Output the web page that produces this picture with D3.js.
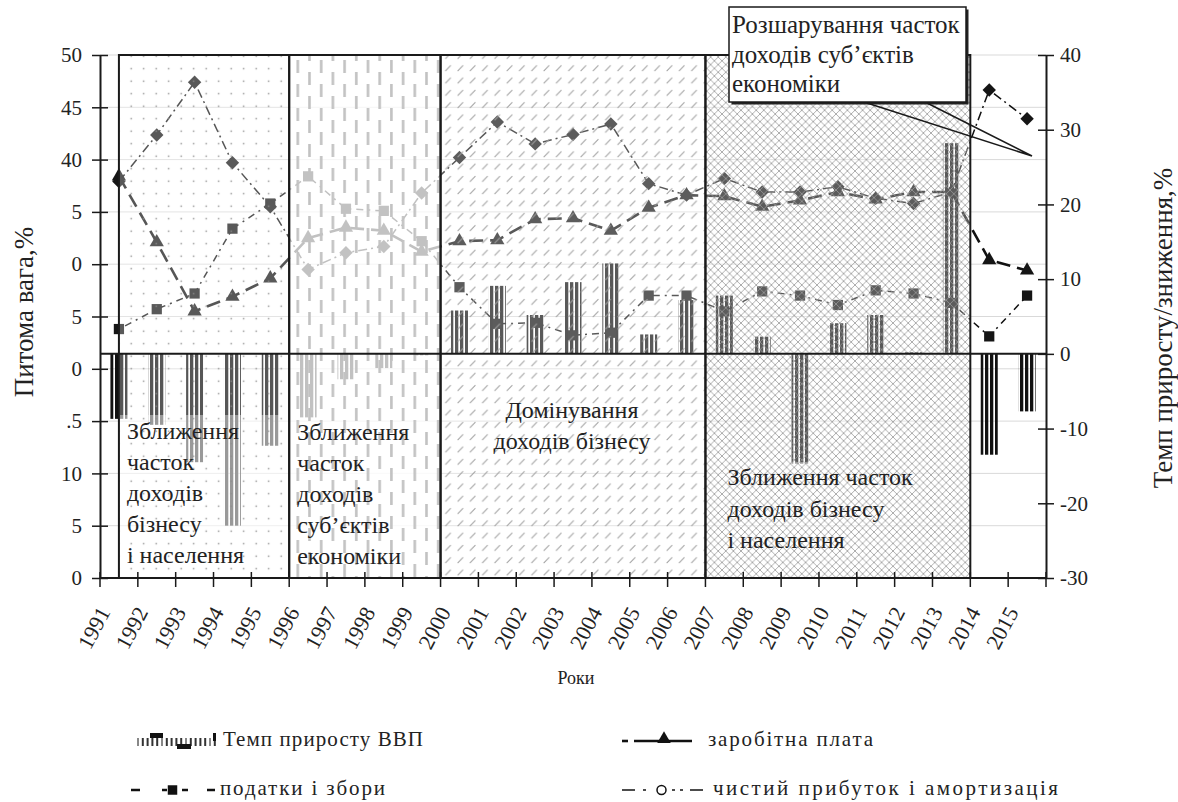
<!DOCTYPE html>
<html><head><meta charset="utf-8">
<script src="https://cdn.jsdelivr.net/npm/d3@7/dist/d3.min.js"></script>
<style>
body{margin:0;background:#fff}
svg{font-family:"Liberation Serif","Tinos","Times New Roman","DejaVu Serif",serif;display:block}
svg text{font-family:"Liberation Serif","Tinos","Times New Roman","DejaVu Serif",serif}
</style>
</head><body>
<svg id="chart" width="1178" height="802"></svg>
<script>
// ---------------- data ----------------
const years = [1991,1992,1993,1994,1995,1996,1997,1998,1999,2000,2001,2002,2003,2004,2005,2006,2007,2008,2009,2010,2011,2012,2013,2014,2015];
// GDP growth rate, % (right axis)
const gdpGrowth = [-8.7,-9.5,-14.5,-23.0,-12.3,-8.5,-3.4,-1.9,-0.2,5.8,9.1,5.2,9.6,12.1,2.6,7.2,7.8,2.3,-14.7,4.1,5.2,0.2,28.2,-13.5,-7.7];
// taxes and fees share, % (left axis) - squares
const taxShare = [23.8,25.7,27.2,33.4,35.8,38.4,35.3,35.1,32.2,27.8,24.3,24.4,23.2,23.45,27.0,27.0,25.5,27.4,27.0,26.1,27.5,27.2,26.3,23.1,27.0];
// wages share, % (left axis) - triangles
const wageShare = [38.4,32.1,25.5,26.9,28.65,32.5,33.5,33.2,31.2,32.2,32.3,34.3,34.4,33.2,35.4,36.6,36.5,35.5,36.1,36.9,36.2,36.9,36.9,30.4,29.4];
// net profit and depreciation share, % (left axis) - diamonds
const profitShare = [37.9,42.35,47.4,39.7,35.5,29.5,31.1,31.7,36.8,40.2,43.6,41.5,42.4,43.4,37.7,36.6,38.2,36.9,36.9,37.4,36.3,35.8,36.9,46.65,43.9];

const leftTickValues = [0,5,10,15,20,25,30,35,40,45,50];
const leftTickLabels = ["0","5","10",".5","0","5","0","5","40","45","50"];
const rightTickValues = [-30,-20,-10,0,10,20,30,40];
const rightTickLabels = ["-30","-20","-10","0","10","20","30","40"];

const periodStart = [1991,1996,2000,2007];
const periodEnd   = [1996,2000,2007,2014];
const periodText = [
  ["Зближення","часток","доходів","бізнесу","і населення"],
  ["Зближення","часток","доходів","суб’єктів","економіки"],
  ["Домінування","доходів бізнесу"],
  ["Зближення часток","доходів бізнесу","і населення"]
];
const calloutText = ["Розшарування часток","доходів суб’єктів","економіки"];
const legendLabels = ["Темп приросту ВВП","заробітна плата","податки і збори","чистий прибуток і амортизація"];
const leftTitle = "Питома вага,%";
const rightTitle = "Темп приросту/зниження,%";
const xTitle = "Роки";

// ---------------- layout ----------------
const L = 100, R = 1046, T = 55, B = 578;
const svg = d3.select("#chart");
const x = d3.scaleBand().domain(years).range([L, R]);
const bw = x.bandwidth();
const cx = d => x(d) + bw / 2;
const yL = d3.scaleLinear().domain([0, 50]).range([B, T]);
const yR = d3.scaleLinear().domain([-30, 40]).range([B, T]);
const barW = 17;
const FONT = '"Liberation Serif","Tinos","Times New Roman","DejaVu Serif",serif';

const defs = svg.append("defs");
function pat(id, w, h) {
  return defs.append("pattern").attr("id", id).attr("patternUnits", "userSpaceOnUse")
    .attr("width", w).attr("height", h);
}
pat("stripe", 5, 10).append("rect").attr("width", 3.3).attr("height", 10).attr("fill", "#111");
{ const p = pat("p1", 12.5, 12.5);
  p.append("rect").attr("width", 12.5).attr("height", 12.5).attr("fill", "#fff").attr("fill-opacity", 0.29);
  p.append("rect").attr("x", 5.5).attr("y", 5.5).attr("width", 1.4).attr("height", 1.4).attr("fill", "#8c8c8c"); }
{ const p = pat("p2", 23.4, 24);
  p.append("rect").attr("width", 23.4).attr("height", 24).attr("fill", "#fff").attr("fill-opacity", 0.74);
  p.append("rect").attr("x", 4).attr("y", 0).attr("width", 2.6).attr("height", 13).attr("fill", "#c2c2c2");
  p.append("rect").attr("x", 15.7).attr("y", 12).attr("width", 2.6).attr("height", 13).attr("fill", "#c2c2c2");
  p.append("rect").attr("x", 15.7).attr("y", -12).attr("width", 2.6).attr("height", 13).attr("fill", "#c2c2c2"); }
{ const p = pat("p3", 12.3, 12.3);
  p.append("rect").attr("width", 12.3).attr("height", 12.3).attr("fill", "#fff").attr("fill-opacity", 0.3);
  p.append("line").attr("x1", 2.5).attr("y1", 9.5).attr("x2", 8).attr("y2", 4).attr("stroke", "#a0a0a0").attr("stroke-width", 1); }
{ const p = pat("p4", 7.6, 7.6);
  p.append("rect").attr("width", 7.6).attr("height", 7.6).attr("fill", "#fff").attr("fill-opacity", 0.3);
  p.append("path").attr("d", "M0,0L7.6,7.6M7.6,0L0,7.6").attr("stroke", "#9a9a9a").attr("stroke-width", 0.8); }

// gridlines
svg.append("g").selectAll("line").data(leftTickValues).join("line")
  .attr("x1", L).attr("x2", R).attr("y1", d => yL(d)).attr("y2", d => yL(d))
  .attr("stroke", "#d9d9d9").attr("stroke-width", 1);

// bars
svg.append("g").selectAll("rect").data(years).join("rect")
  .attr("x", d => cx(d) - barW / 2).attr("width", barW)
  .attr("y", (d, i) => yR(Math.max(0, gdpGrowth[i])))
  .attr("height", (d, i) => Math.abs(yR(gdpGrowth[i]) - yR(0)))
  .attr("fill", "url(#stripe)");

// lines + markers
const series = [
  { vals: taxShare, dash: "2,5,7,5", w: 1.5, sym: d3.symbol().type(d3.symbolSquare).size(105)(), rot: 0 },
  { vals: wageShare, dash: "14,7", w: 2.6, sym: d3.symbol().type(d3.symbolTriangle).size(88)(), rot: 0 },
  { vals: profitShare, dash: "9,4,2,4", w: 1.5, sym: d3.symbol().type(d3.symbolSquare).size(90)(), rot: 45 }
];
const lineG = svg.append("g");
series.forEach(s => {
  lineG.append("path").datum(years)
    .attr("d", d3.line().x(d => cx(d)).y((d, i) => yL(s.vals[i])))
    .attr("fill", "none").attr("stroke", "#111").attr("stroke-width", s.w)
    .attr("stroke-dasharray", s.dash);
  lineG.append("g").selectAll("path").data(years).join("path")
    .attr("d", s.sym).attr("fill", "#151515")
    .attr("transform", (d, i) => `translate(${cx(d)},${yL(s.vals[i])}) rotate(${s.rot})`);
});

// semi-opaque text areas
const textAreaTop = [415, 441, null, 462];
periodStart.forEach((p, i) => {
  if (textAreaTop[i] == null) return;
  const x0 = i === 0 ? cx(p) : x(p), x1 = x(periodEnd[i]);
  svg.append("rect").attr("x", x0).attr("y", textAreaTop[i]).attr("width", x1 - x0)
    .attr("height", B - textAreaTop[i]).attr("fill", "#fff").attr("fill-opacity", 0.4);
});

// period boxes
const boxG = svg.append("g");
periodStart.forEach((p, i) => {
  const x0 = i === 0 ? cx(p) : x(p), x1 = x(periodEnd[i]);
  boxG.append("rect").attr("x", x0).attr("y", T).attr("width", x1 - x0).attr("height", B - T)
    .attr("fill", `url(#p${i + 1})`);
});
periodStart.forEach((p, i) => {
  const x0 = i === 0 ? cx(p) : x(p), x1 = x(periodEnd[i]);
  boxG.append("rect").attr("x", x0).attr("y", T).attr("width", x1 - x0).attr("height", B - T)
    .attr("fill", "none").attr("stroke", "#1a1a1a").attr("stroke-width", 2);
});

// zero line (right axis)
svg.append("line").attr("x1", L).attr("x2", R).attr("y1", yR(0)).attr("y2", yR(0))
  .attr("stroke", "#1a1a1a").attr("stroke-width", 2);

// period texts
const textG = svg.append("g").attr("fill", "#222").attr("font-size", 24);
const periodTextPos = [
  { dx: 8, y: 439, step: 31, anchor: "start" },
  { dx: 8, y: 440, step: 31, anchor: "start" },
  { dx: null, y: 418, step: 31, anchor: "middle" },
  { dx: 22, y: 485, step: 31.5, anchor: "start" }
];
periodText.forEach((lines, i) => {
  const pos = periodTextPos[i];
  const x0 = i === 0 ? cx(periodStart[i]) : x(periodStart[i]);
  const tx = pos.anchor === "middle" ? (x(periodStart[i]) + x(periodEnd[i])) / 2 - 1 : x0 + pos.dx;
  const t = textG.append("text").attr("text-anchor", pos.anchor);
  lines.forEach((ln, j) => t.append("tspan").attr("x", tx).attr("y", pos.y + j * pos.step).text(ln));
});

// axes
const leftAxis = svg.append("g").attr("transform", `translate(${L},0)`)
  .call(d3.axisLeft(yL).tickValues(leftTickValues).tickFormat((d, i) => leftTickLabels[i]).tickSizeInner(8).tickSizeOuter(0).tickPadding(10));
leftAxis.selectAll(".tick line").attr("x1", 8).attr("x2", -8);
const rightAxis = svg.append("g").attr("transform", `translate(${R},0)`)
  .call(d3.axisRight(yR).tickValues(rightTickValues).tickFormat((d, i) => rightTickLabels[i]).tickSizeInner(8).tickSizeOuter(0).tickPadding(6));
rightAxis.selectAll(".tick line").attr("x1", -8).attr("x2", 8);
const boundaries = years.map(d => x(d)).concat([R]);
const bottomG = svg.append("g");
bottomG.append("line").attr("x1", L).attr("x2", R).attr("y1", B).attr("y2", B).attr("stroke", "#1a1a1a").attr("stroke-width", 2);
bottomG.selectAll("line.t").data(boundaries).join("line").attr("class", "t")
  .attr("x1", d => d).attr("x2", d => d).attr("y1", B - 6).attr("y2", B + 9)
  .attr("stroke", "#1a1a1a").attr("stroke-width", 1.5);
bottomG.selectAll("text").data(years).join("text")
  .attr("transform", d => `translate(${cx(d) - 8},${B + 34}) rotate(-62)`)
  .attr("text-anchor", "end").attr("font-size", 22).attr("fill", "#222").text(d => d);

[leftAxis, rightAxis].forEach(a => {
  a.attr("font-family", FONT);
  a.select(".domain").attr("stroke", "#1a1a1a").attr("stroke-width", 2);
  a.selectAll(".tick line").attr("stroke", "#1a1a1a").attr("stroke-width", 1.5);
  a.selectAll("text").attr("font-size", 21).attr("fill", "#222");
});

// titles
svg.append("text").attr("transform", `translate(33,312) rotate(-90)`).attr("text-anchor", "middle")
  .attr("font-size", 27).attr("fill", "#222").text(leftTitle);
svg.append("text").attr("transform", `translate(1172,328) rotate(-90)`).attr("text-anchor", "middle")
  .attr("font-size", 27).attr("fill", "#222").text(rightTitle);
svg.append("text").attr("x", 576).attr("y", 684).attr("text-anchor", "middle")
  .attr("font-size", 18).attr("fill", "#222").text(xTitle);

// callout
const cg = svg.append("g");
cg.append("rect").attr("x", 731.5).attr("y", 9.5).attr("width", 237).attr("height", 95).attr("fill", "#222");
cg.append("rect").attr("x", 729).attr("y", 7).attr("width", 237).attr("height", 95).attr("fill", "#fff").attr("stroke", "#1a1a1a").attr("stroke-width", 1.5);
cg.append("path").attr("d", "M867,103L1032,156L927,103").attr("fill", "none").attr("stroke", "#1a1a1a").attr("stroke-width", 1.5);
const ct = cg.append("text").attr("font-size", 25).attr("fill", "#222");
calloutText.forEach((ln, j) => ct.append("tspan").attr("x", 732).attr("y", 33 + j * 29.5).text(ln));

// legend
const lg = svg.append("g");
for (let k = 0; k < 17; k++) {
  lg.append("rect").attr("x", 137 + k * 4.8).attr("y", 738).attr("width", 2).attr("height", 8)
    .attr("fill", k % 5 === 0 ? "#888" : "#333");
}
lg.append("rect").attr("x", 150).attr("y", 733).attr("width", 13).attr("height", 5).attr("fill", "#111");
lg.append("rect").attr("x", 177).attr("y", 744).attr("width", 14).attr("height", 5).attr("fill", "#111");
lg.append("rect").attr("x", 213).attr("y", 733).attr("width", 3).attr("height", 8).attr("fill", "#111");
lg.append("line").attr("x1", 622).attr("x2", 628).attr("y1", 741).attr("y2", 741).attr("stroke", "#111").attr("stroke-width", 2.6);
lg.append("line").attr("x1", 634).attr("x2", 692).attr("y1", 741).attr("y2", 741).attr("stroke", "#111").attr("stroke-width", 2.6);
lg.append("path").attr("d", d3.symbol().type(d3.symbolTriangle).size(80)()).attr("transform", "translate(664,739)").attr("fill", "#111");
[[131, 140], [162, 167], [182, 188], [207, 215]].forEach(s =>
  lg.append("line").attr("x1", s[0]).attr("x2", s[1]).attr("y1", 790).attr("y2", 790).attr("stroke", "#111").attr("stroke-width", 2.5));
lg.append("path").attr("d", d3.symbol().type(d3.symbolSquare).size(90)()).attr("transform", "translate(172.5,790)").attr("fill", "#111");
[[622, 635], [643, 646], [672, 675], [680, 683], [690, 703]].forEach(s =>
  lg.append("line").attr("x1", s[0]).attr("x2", s[1]).attr("y1", 790).attr("y2", 790).attr("stroke", "#111").attr("stroke-width", 1.5));
lg.append("circle").attr("cx", 661.5).attr("cy", 790).attr("r", 4.5).attr("fill", "#fff").attr("stroke", "#111").attr("stroke-width", 1.5);
const legPos = [[223, 746, 200], [708, 746, 165], [220, 795, 165], [713, 795, 345]];
legendLabels.forEach((t, i) => {
  lg.append("text").attr("x", legPos[i][0]).attr("y", legPos[i][1]).attr("font-size", 21).attr("fill", "#222")
    .attr("textLength", legPos[i][2]).attr("lengthAdjust", "spacing").text(t);
});
</script>
</body></html>
